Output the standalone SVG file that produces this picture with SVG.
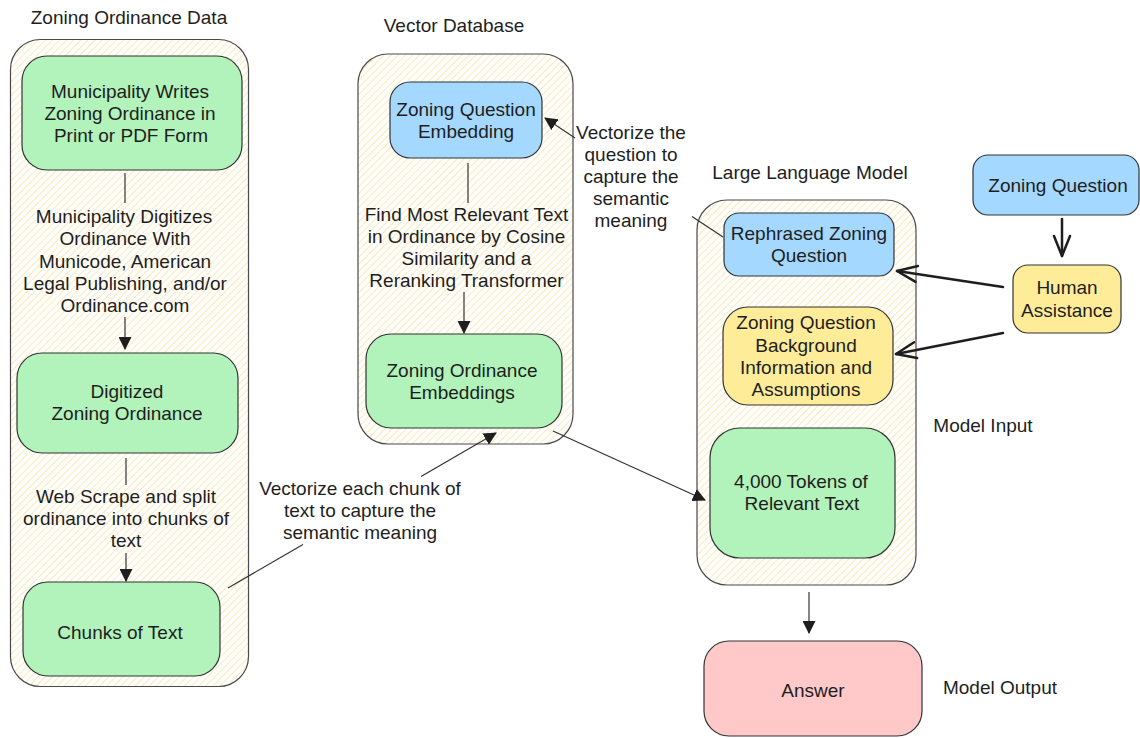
<svg xmlns="http://www.w3.org/2000/svg" width="1140" height="738" viewBox="0 0 1140 738">
<defs>
<pattern id="hatch" patternUnits="userSpaceOnUse" width="5" height="5" patternTransform="rotate(45)">
<rect width="5" height="5" fill="#ffffff"/>
<line x1="0" y1="0" x2="0" y2="5" stroke="#f9e4a6" stroke-width="1.6"/>
</pattern>
<marker id="tri" viewBox="0 0 13 13" refX="12" refY="6.5" markerWidth="13" markerHeight="13" markerUnits="userSpaceOnUse" orient="auto">
<path d="M0,0 L13,6.5 L0,13 z" fill="#1e1e1e"/>
</marker>
<marker id="vee" viewBox="-3 -11 26 22" refX="20" refY="0" markerWidth="26" markerHeight="22" markerUnits="userSpaceOnUse" orient="auto">
<path d="M0,-8 L20,0 L0,8" fill="none" stroke="#1e1e1e" stroke-width="2.5" stroke-linecap="round" stroke-linejoin="round"/>
</marker>
</defs>
<style>
text { font-family: "Liberation Sans", Arial, sans-serif; font-size: 19px; fill: #1e1e1e; text-anchor: middle; }
.cont { fill: url(#hatch); stroke: #4a4a4a; stroke-width: 1.2; }
.box { stroke: #333333; stroke-width: 1.2; }
.green { fill: #b2f2bb; }
.blue { fill: #a5d8ff; }
.yellow { fill: #ffec99; }
.pink { fill: #ffc9c9; }
.thin { stroke: #333333; stroke-width: 1.2; fill: none; }
.thick { stroke: #1e1e1e; stroke-width: 2.5; fill: none; stroke-linecap: round; }
</style>
<rect width="1140" height="738" fill="#ffffff"/>

<g id="zoning-ordinance-data">
<rect class="cont" x="10.5" y="39.5" width="238" height="647" rx="30"/>
<text x="129" y="23.5">Zoning Ordinance Data</text>
</g>
<g id="vector-database">
<rect class="cont" x="358" y="54" width="215" height="390" rx="30"/>
<text x="454" y="32">Vector Database</text>
</g>
<g id="large-language-model">
<rect class="cont" x="697" y="200" width="219" height="385" rx="30"/>
<text x="810" y="179">Large Language Model</text>
</g>

<g id="muni-writes">
<rect class="box green" x="22" y="56" width="220" height="114" rx="25"/>
<text x="130" y="98">Municipality Writes</text>
<text x="130" y="120">Zoning Ordinance in</text>
<text x="131" y="142">Print or PDF Form</text>
</g>
<g id="digitized">
<rect class="box green" x="17" y="353" width="221" height="100" rx="25"/>
<text x="127" y="398">Digitized</text>
<text x="127" y="420">Zoning Ordinance</text>
</g>
<g id="chunks">
<rect class="box green" x="23" y="582" width="197" height="94" rx="25"/>
<text x="120" y="639">Chunks of Text</text>
</g>
<g id="question-embedding">
<rect class="box blue" x="390" y="82" width="152" height="76" rx="20"/>
<text x="466" y="116">Zoning Question</text>
<text x="466" y="138">Embedding</text>
</g>
<g id="ordinance-embeddings">
<rect class="box green" x="366" y="334" width="196" height="94" rx="25"/>
<text x="462" y="377">Zoning Ordinance</text>
<text x="462" y="399">Embeddings</text>
</g>
<g id="rephrased">
<rect class="box blue" x="724" y="213" width="170" height="63" rx="15"/>
<text x="809" y="240">Rephrased Zoning</text>
<text x="809" y="262">Question</text>
</g>
<g id="background">
<rect class="box yellow" x="723" y="307" width="170" height="98" rx="25"/>
<text x="806" y="329">Zoning Question</text>
<text x="806" y="351.5">Background</text>
<text x="806" y="374">Information and</text>
<text x="806" y="396">Assumptions</text>
</g>
<g id="tokens">
<rect class="box green" x="710" y="428" width="185" height="130" rx="30"/>
<text x="801" y="488">4,000 Tokens of</text>
<text x="802" y="510">Relevant Text</text>
</g>
<g id="zoning-question">
<rect class="box blue" x="973" y="155" width="166" height="60" rx="15"/>
<text x="1058" y="192">Zoning Question</text>
</g>
<g id="human-assistance">
<rect class="box yellow" x="1013" y="265" width="108" height="68" rx="15"/>
<text x="1067" y="294">Human</text>
<text x="1067" y="316.5">Assistance</text>
</g>
<g id="answer">
<rect class="box pink" x="704" y="641" width="218" height="95" rx="25"/>
<text x="813" y="697">Answer</text>
</g>
<g id="labels">
<text x="983" y="432">Model Input</text>
<text x="1000" y="694">Model Output</text>
</g>

<g id="connectors">
<line class="thin" x1="125" y1="173" x2="125" y2="203"/>
<text x="124" y="223">Municipality Digitizes</text>
<text x="125" y="245">Ordinance With</text>
<text x="125" y="267.5">Municode, American</text>
<text x="125" y="290">Legal Publishing, and/or</text>
<text x="125" y="312">Ordinance.com</text>
<line class="thin" x1="125" y1="317" x2="125" y2="349" marker-end="url(#tri)"/>

<line class="thin" x1="126" y1="458" x2="126" y2="485"/>
<text x="126" y="503">Web Scrape and split</text>
<text x="126" y="525">ordinance into chunks of</text>
<text x="126" y="547">text</text>
<line class="thin" x1="126" y1="553" x2="126" y2="581" marker-end="url(#tri)"/>

<line class="thin" x1="468" y1="163" x2="468" y2="203"/>
<text x="466.5" y="221">Find Most Relevant Text</text>
<text x="466.5" y="243">in Ordinance by Cosine</text>
<text x="466.5" y="265">Similarity and a</text>
<text x="466.5" y="287">Reranking Transformer</text>
<line class="thin" x1="464" y1="292" x2="464" y2="333" marker-end="url(#tri)"/>

<line class="thin" x1="228" y1="588" x2="303" y2="544.5"/>
<line class="thin" x1="421" y1="476.5" x2="496" y2="433" marker-end="url(#tri)"/>
<text x="360" y="495">Vectorize each chunk of</text>
<text x="360" y="517">text to capture the</text>
<text x="360" y="539">semantic meaning</text>

<line class="thin" x1="723" y1="237" x2="692" y2="216.4"/>
<line class="thin" x1="575" y1="138" x2="545" y2="118" marker-end="url(#tri)"/>
<text x="631" y="139">Vectorize the</text>
<text x="631" y="161">question to</text>
<text x="631" y="183">capture the</text>
<text x="631" y="205">semantic</text>
<text x="631" y="227">meaning</text>

<line class="thin" x1="553" y1="431" x2="705" y2="500" marker-end="url(#tri)"/>
<line class="thin" x1="809" y1="592" x2="809" y2="633" marker-end="url(#tri)"/>

<line class="thick" x1="1062" y1="219" x2="1062" y2="256" marker-end="url(#vee)"/>
<line class="thick" x1="1003" y1="287" x2="897" y2="271" marker-end="url(#vee)"/>
<line class="thick" x1="1003" y1="333" x2="896" y2="354" marker-end="url(#vee)"/>
</g>
</svg>
